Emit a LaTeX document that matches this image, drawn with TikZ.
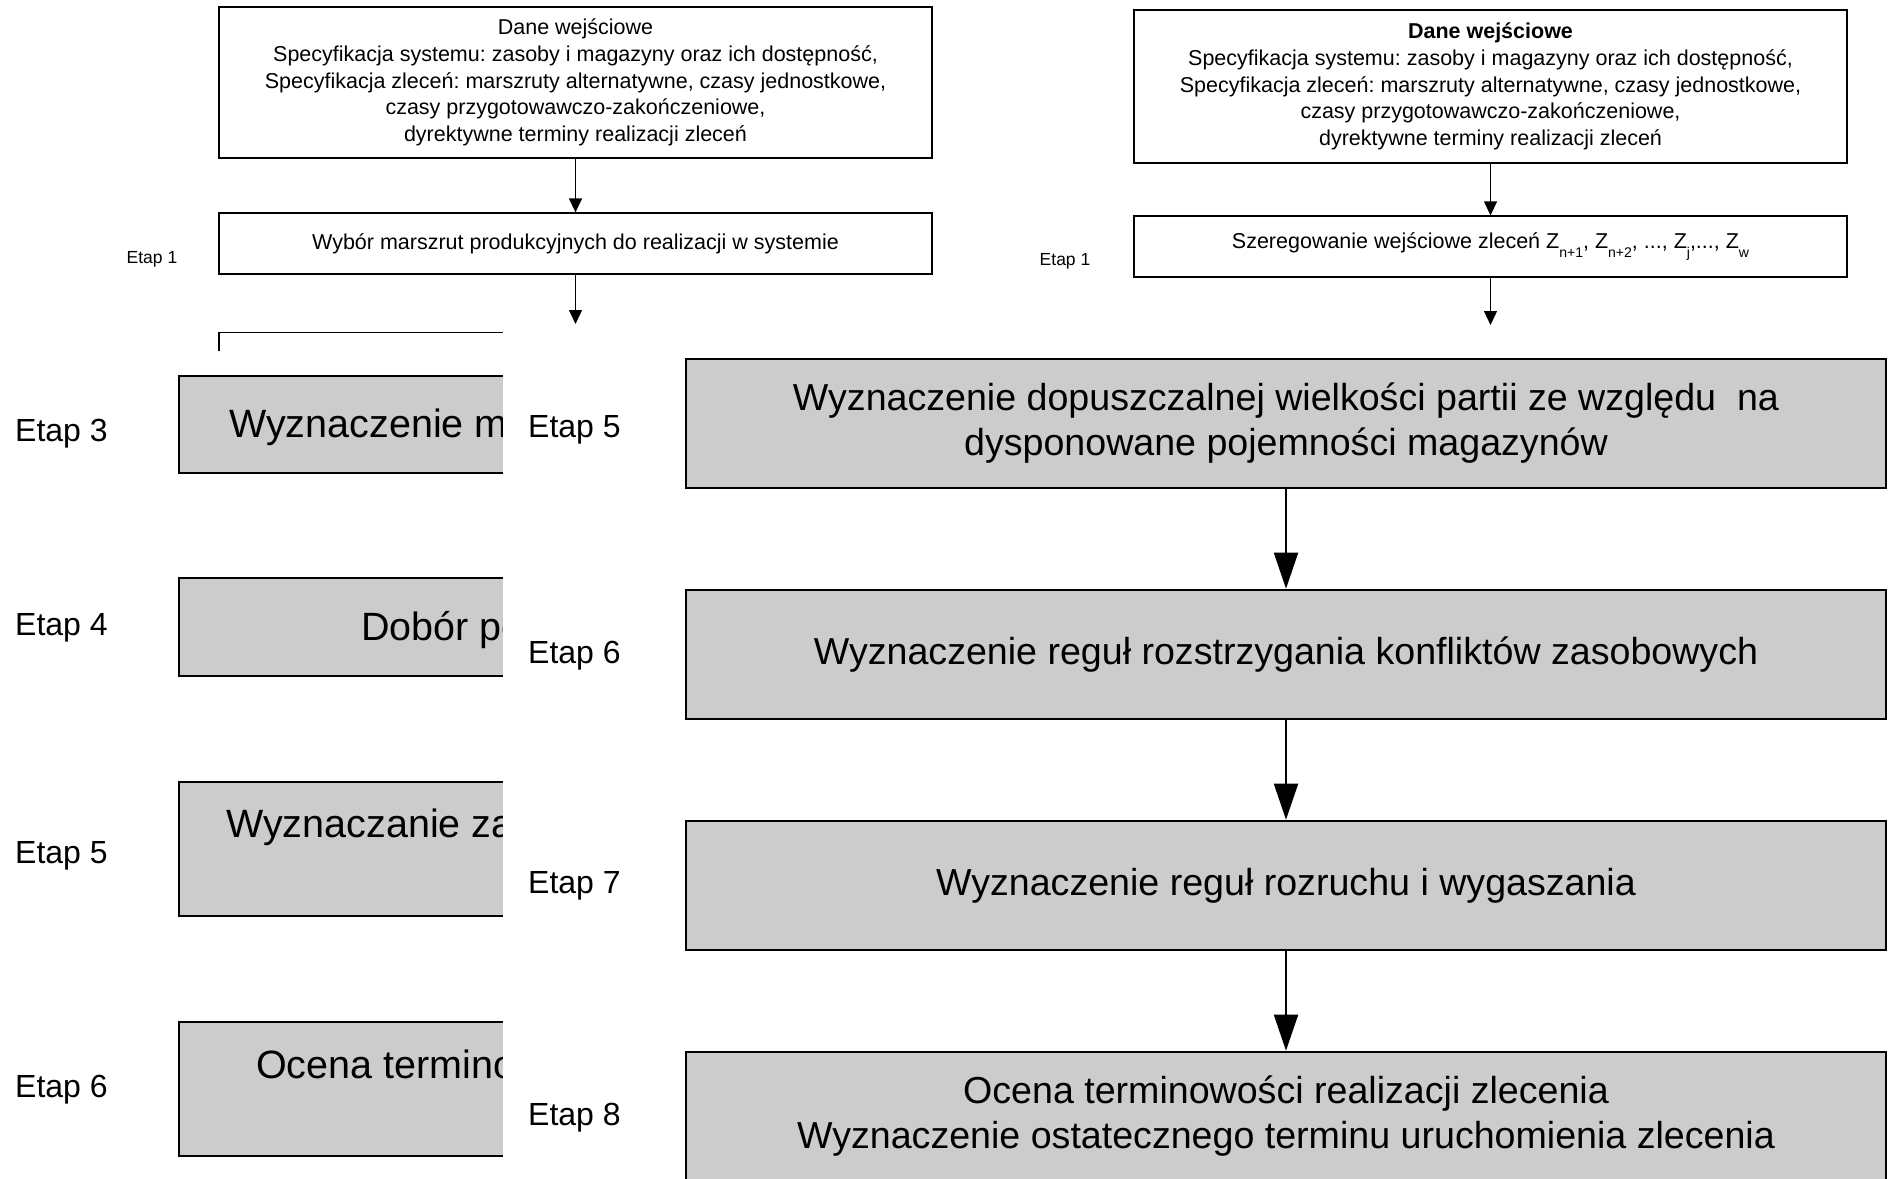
\documentclass[tikz,border=0pt]{standalone}
\usepackage{fontspec}
\setmainfont{Liberation Sans}
\usetikzlibrary{arrows.meta}
\definecolor{boxgray}{RGB}{204,204,204}
\newcommand\zsub[1]{\raisebox{-0.4em}{\fontsize{14}{14}\selectfont #1}}
\frenchspacing
\begin{document}
\begin{tikzpicture}[x=1pt,y=-1pt,
  thinbox/.style={draw=black, line width=1.3pt, fill=white, rectangle, inner sep=0pt, align=center, font=\fontsize{21.5}{26.7}\selectfont},
  graybox/.style={draw=black, line width=2.6pt, fill=boxgray, rectangle, inner sep=0pt, align=center, font=\fontsize{37.6}{45}\selectfont},
  smalllabel/.style={font=\fontsize{17.5}{20}\selectfont, inner sep=0pt},
  biglabel/.style={font=\fontsize{32}{36}\selectfont, inner sep=0pt, anchor=base west},
  bigtext/.style={font=\fontsize{39.5}{45}\selectfont, inner sep=0pt, anchor=base west},
  thinarrow/.style={line width=1.3pt, -{Triangle[length=14pt,width=13pt]}},
  bigarrow/.style={line width=2pt, -{Triangle[length=36pt,width=24pt]}}
]
\useasboundingbox (0,0) rectangle (1890,1178);
\fill[white] (0,0) rectangle (1890,1178);

% ---- top-left panel
\node[thinbox, minimum width=713pt, minimum height=151pt] (tlA) at (575.5,82.5)
  {Dane wejściowe\\Specyfikacja systemu: zasoby i magazyny oraz ich dostępność,\\Specyfikacja zleceń: marszruty alternatywne, czasy jednostkowe,\\czasy przygotowawczo-zakończeniowe,\\dyrektywne terminy realizacji zleceń};
\node[thinbox, minimum width=713pt, minimum height=61pt] (tlB) at (575.5,243.5)
  {Wybór marszrut produkcyjnych do realizacji w systemie};
\node[smalllabel] (tlE1) at (152,259) {Etap 1};
\node[thinbox, minimum width=713pt, minimum height=80pt, anchor=north] (tlC) at (575.5,332) {};
\draw[thinarrow] (tlA) -- (tlB);
\draw[thinarrow, shorten >=8pt] (tlB) -- (tlC);

% ---- top-right panel
\node[thinbox, minimum width=713pt, minimum height=153pt] (trA) at (1490.5,86.5)
  {\textbf{Dane wejściowe}\\Specyfikacja systemu: zasoby i magazyny oraz ich dostępność,\\Specyfikacja zleceń: marszruty alternatywne, czasy jednostkowe,\\czasy przygotowawczo-zakończeniowe,\\dyrektywne terminy realizacji zleceń};
\node[thinbox, minimum width=713pt, minimum height=61pt] (trB) at (1490.5,246.5)
  {Szeregowanie wejściowe zleceń Z\zsub{n+1}, Z\zsub{n+2}, ..., Z\zsub{j},..., Z\zsub{w}};
\node[smalllabel] (trE1) at (1065,261) {Etap 1};
\coordinate (trEnd) at (1490.5,325);
\draw[thinarrow] (trA) -- (trB);
\draw[thinarrow] (trB) -- (trEnd);

% ---- left gray panel (partly covered)
\fill[white] (0,351) rectangle (503,1178);
\begin{scope}
\clip (0,351) rectangle (503,1178);
\node[graybox, minimum width=921pt, minimum height=97pt] (lg3) at (639.5,424.5) {};
\node[graybox, minimum width=921pt, minimum height=98pt] (lg4) at (639.5,627) {};
\node[graybox, minimum width=921pt, minimum height=134pt] (lg5) at (639.5,849) {};
\node[graybox, minimum width=921pt, minimum height=134pt] (lg6) at (639.5,1089) {};
\node[bigtext] (lt3) at (229,437) {Wyznaczenie m};
\node[bigtext] (lt4) at (361,640) {Dobór po};
\node[bigtext] (lt5) at (226,837) {Wyznaczanie za};
\node[bigtext] (lt6) at (256,1078) {Ocena terminow};
\node[biglabel] (le3) at (15,441) {Etap 3};
\node[biglabel] (le4) at (15,635) {Etap 4};
\node[biglabel] (le5) at (15,863) {Etap 5};
\node[biglabel] (le6) at (15,1097) {Etap 6};
\end{scope}

% ---- right gray panel (on top)
\fill[white] (503,329) rectangle (1890,1178);
\node[graybox, minimum width=1200pt, minimum height=129pt] (rg5) at (1286,423.5)
  {Wyznaczenie dopuszczalnej wielkości partii ze względu\ \ na\\dysponowane pojemności magazynów};
\node[graybox, minimum width=1200pt, minimum height=129pt] (rg6) at (1286,654.5)
  {Wyznaczenie reguł rozstrzygania konfliktów zasobowych};
\node[graybox, minimum width=1200pt, minimum height=129pt] (rg7) at (1286,885.5)
  {Wyznaczenie reguł rozruchu i wygaszania};
\node[graybox, minimum width=1200pt, minimum height=129pt] (rg8) at (1286,1116.5)
  {Ocena terminowości realizacji zlecenia\\Wyznaczenie ostatecznego terminu uruchomienia zlecenia};
\node[biglabel] (re5) at (528,437) {Etap 5};
\node[biglabel] (re6) at (528,663) {Etap 6};
\node[biglabel] (re7) at (528,893) {Etap 7};
\node[biglabel] (re8) at (528,1125) {Etap 8};
\draw[bigarrow] (rg5) -- (rg6);
\draw[bigarrow] (rg6) -- (rg7);
\draw[bigarrow] (rg7) -- (rg8);
\end{tikzpicture}
\end{document}
